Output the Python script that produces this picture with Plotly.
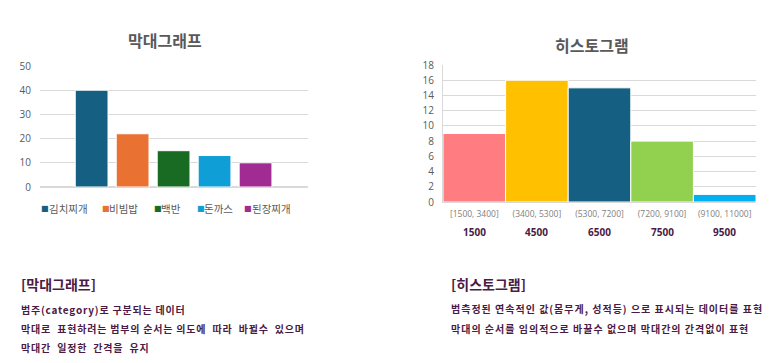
import plotly.graph_objects as go

W, H = 783, 363

# ---- data ----
bar_categories = ["김치찌개", "비빔밥", "백반", "돈까스", "된장찌개"]
bar_values = [40, 22, 15, 13, 10]
bar_colors = ["#156082", "#E97132", "#196B24", "#0F9ED5", "#A02B93"]

hist_bins = ["[1500, 3400]", "(3400, 5300]", "(5300, 7200]", "(7200, 9100]", "(9100, 11000]"]
hist_values = [9, 16, 15, 8, 1]
hist_colors = ["#FF7C80", "#FFC000", "#156082", "#92D050", "#00B0F0"]
hist_marks = ["1500", "4500", "6500", "7500", "9500"]

bar_title = "막대그래프"
hist_title = "히스토그램"
left_heading = "[막대그래프]"
left_lines = ["범주(category)로 구분되는 데이터",
              "막대로  표현하려는 범부의 순서는 의도에  따라  바뀔수  있으며",
              "막대간  일정한  간격을  유지"]
right_heading = "[히스토그램]"
right_lines = ["범측정된 연속적인 값(몸무게, 성적등) 으로 표시되는 데이터를 표현",
               "막대의 순서를 임의적으로 바꿀수 없으며 막대간의 간격없이 표현"]

KR = "Noto Sans CJK KR"
NUM = "Open Sans"
TXT = "#4B1A45"
GRAY = "#595959"
GRID = "#D9D9D9"

def px(x):
    return x / W

def py(y):
    return 1 - y / H

fig = go.Figure()

for cat, val, col in zip(bar_categories, bar_values, bar_colors):
    fig.add_trace(go.Bar(
        x=[cat], y=[val], name=cat, width=0.8,
        marker=dict(color=col, line=dict(color="white", width=1)),
        xaxis="x", yaxis="y", showlegend=False,
    ))

fig.add_trace(go.Bar(
    x=list(range(len(hist_values))), y=hist_values, width=1,
    marker=dict(color=hist_colors, line=dict(color="white", width=1)),
    xaxis="x2", yaxis="y2", showlegend=False,
))

fig.update_layout(
    width=W, height=H,
    margin=dict(l=0, r=0, t=0, b=0, pad=0, autoexpand=False),
    paper_bgcolor="white", plot_bgcolor="white",
    barmode="overlay",
    showlegend=False,
    font=dict(family=KR, color=GRAY, size=10),
    xaxis=dict(domain=[px(40), px(308)], type="category",
               categoryorder="array", categoryarray=bar_categories,
               range=[-1.26, 5.28], showticklabels=False, showgrid=False,
               showline=False, zeroline=False, automargin=False),
    yaxis=dict(domain=[py(187), py(66)], range=[0, 50], dtick=10,
               showgrid=True, gridcolor=GRID, gridwidth=1, zeroline=True,
               zerolinecolor=GRID, showline=False, ticks="",
               ticklabelstandoff=8, automargin=False,
               tickfont=dict(family=NUM, size=10, color=GRAY)),
    xaxis2=dict(domain=[px(443), px(756)], range=[-0.5, 4.5],
                tickmode="array", tickvals=list(range(5)), ticktext=hist_bins,
                tickfont=dict(family=NUM, size=8.5, color="#7F7F7F"),
                ticklabelstandoff=4, automargin=False,
                showgrid=False, zeroline=False, showline=True,
                linecolor=GRID, ticks="", anchor="y2"),
    yaxis2=dict(domain=[py(202), py(65)], range=[0, 18], dtick=2,
                showgrid=True, gridcolor=GRID, zeroline=False,
                showline=True, linecolor=GRID, ticks="", anchor="x2",
                ticklabelstandoff=6, automargin=False,
                tickfont=dict(family=NUM, size=10, color=GRAY)),
)

ann = []
# custom legend for the bar chart
legend_sq_x = [39, 100, 152, 195, 242]
legend_tx_x = [47, 107, 159, 202, 250]
for cat, col, sx, tx in zip(bar_categories, bar_colors, legend_sq_x, legend_tx_x):
    ann.append(dict(text="■", x=px(sx), y=py(208), xref="paper", yref="paper",
                    showarrow=False, xanchor="left", yanchor="middle",
                    font=dict(family="DejaVu Sans", size=8, color=col)))
    ann.append(dict(text=cat, x=px(tx), y=py(208), xref="paper", yref="paper",
                    showarrow=False, xanchor="left", yanchor="middle",
                    font=dict(family=KR, size=10.5, color=GRAY)))

ann.append(dict(text="<b>%s</b>" % bar_title, x=px(165), y=py(40), xref="paper", yref="paper",
                showarrow=False, font=dict(family=KR, size=16, color=GRAY),
                xanchor="center", yanchor="middle"))
ann.append(dict(text="<b>%s</b>" % hist_title, x=px(592), y=py(45), xref="paper", yref="paper",
                showarrow=False, font=dict(family=KR, size=16, color=GRAY),
                xanchor="center", yanchor="middle"))
for i, m in enumerate(hist_marks):
    ann.append(dict(text="<b>%s</b>" % m, x=i, y=py(232), xref="x2", yref="paper",
                    showarrow=False, font=dict(family=NUM, size=10, color=TXT),
                    xanchor="center", yanchor="middle"))

def spaced(s, ls):
    return '<span style="letter-spacing:%spx"><b>%s</b></span>' % (ls, s)

ann.append(dict(text="<b>%s</b>" % left_heading, x=px(19), y=py(284), xref="paper",
                yref="paper", showarrow=False, xanchor="left", yanchor="middle",
                font=dict(family=KR, size=14, color=TXT)))
for line, yy in zip(left_lines, [309, 328, 347]):
    ann.append(dict(text=spaced(line, 0.8), x=px(19), y=py(yy), xref="paper",
                    yref="paper", showarrow=False, xanchor="left", yanchor="middle",
                    font=dict(family=KR, size=10, color=TXT)))
ann.append(dict(text="<b>%s</b>" % right_heading, x=px(449), y=py(284), xref="paper",
                yref="paper", showarrow=False, xanchor="left", yanchor="middle",
                font=dict(family=KR, size=14, color=TXT)))
for line, yy in zip(right_lines, [308, 328]):
    ann.append(dict(text=spaced(line, 1), x=px(449), y=py(yy), xref="paper",
                    yref="paper", showarrow=False, xanchor="left", yanchor="middle",
                    font=dict(family=KR, size=10, color=TXT)))
fig.update_layout(annotations=ann)

fig.write_html("out.html", config={"displayModeBar": False},
               post_script="document.body.style.margin='0';document.documentElement.style.overflow='hidden';")
